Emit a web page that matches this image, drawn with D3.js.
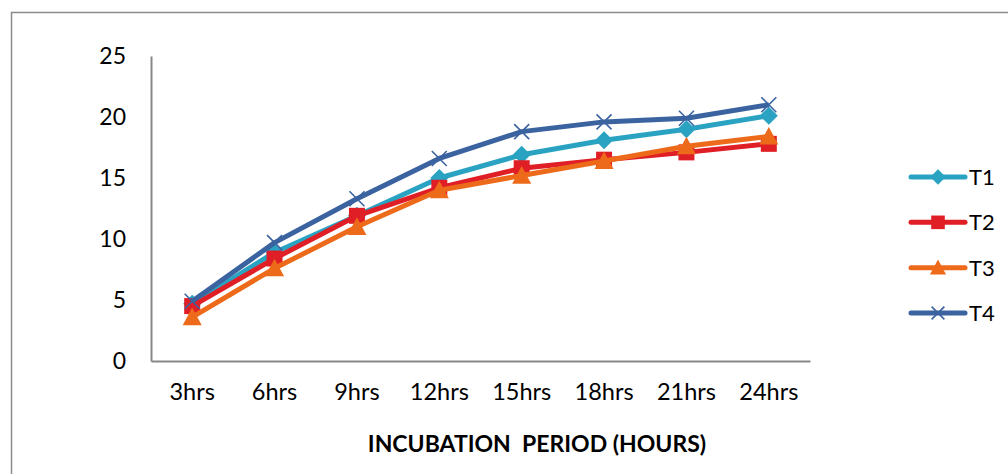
<!DOCTYPE html>
<html><head><meta charset="utf-8">
<script src="https://cdn.jsdelivr.net/npm/d3@7"></script>
<style>html,body{margin:0;padding:0;background:#fff;overflow:hidden}</style>
</head><body>
<svg id="c" width="1008" height="474"></svg>
<script>
const categories = ["3hrs","6hrs","9hrs","12hrs","15hrs","18hrs","21hrs","24hrs"];
const T1 = [4.7, 8.9, 11.9, 15.0, 16.9, 18.1, 19.0, 20.1];
const T2 = [4.5, 8.4, 11.9, 14.2, 15.8, 16.5, 17.1, 17.8];
const T3 = [3.6, 7.6, 11.0, 14.0, 15.2, 16.4, 17.6, 18.4];
const T4 = [4.9, 9.7, 13.3, 16.6, 18.8, 19.6, 19.9, 21.0];
const seriesNames = ["T1","T2","T3","T4"];
const yTicks = [0,5,10,15,20,25];
const xTitle = "INCUBATION\u00a0\u00a0PERIOD (HOURS)";

const colors = ["#2AA3C3","#E01E26","#EE6A1B","#3A63A0"];
const markers = ["diamond","square","triangle","cross"];
const seriesVals = [T1,T2,T3,T4];
const font = "Lato, 'Open Sans', sans-serif";

const svg = d3.select("#c");
svg.append("rect").attr("x",11.5).attr("y",12.5).attr("width",1010).attr("height",480)
  .attr("fill","none").attr("stroke","#8c8c8c").attr("stroke-width",1.5);

const x = d3.scaleBand().domain(categories).range([151, 810]).padding(0);
const y = d3.scaleLinear().domain([0,25]).range([361, 56]);
const cx = c => x(c) + x.bandwidth()/2;

// axes
const yAxis = svg.append("g").attr("transform","translate(151,0)")
  .call(d3.axisLeft(y).tickValues(yTicks).tickSize(0).tickPadding(25));
yAxis.select(".domain").attr("stroke","#878787").attr("stroke-width",2);
yAxis.selectAll("text").attr("font-family",font).attr("font-size",23).attr("fill","#000");

const xAxis = svg.append("g").attr("transform","translate(0,361)")
  .call(d3.axisBottom(x).tickSize(0).tickPadding(22));
xAxis.select(".domain").attr("stroke","#878787").attr("stroke-width",2);
xAxis.selectAll("text").attr("font-family",font).attr("font-size",23.5).attr("fill","#000");

svg.append("text").attr("x",537).attr("y",452).attr("text-anchor","middle")
  .attr("font-family",font).attr("font-weight","bold").attr("font-size",23)
  .attr("fill","#000").text(xTitle);

function drawMarker(g, type, px, py, color, scale){
  const s = scale||1;
  if(type==="diamond"){
    const r=9*s;
    g.append("path").attr("d",`M${px},${py-r}L${px+r},${py}L${px},${py+r}L${px-r},${py}Z`).attr("fill",color);
  } else if(type==="square"){
    const r=8*s;
    g.append("rect").attr("x",px-r).attr("y",py-r).attr("width",2*r).attr("height",2*r).attr("fill",color);
  } else if(type==="triangle"){
    const r=9.5*s;
    g.append("path").attr("d",`M${px},${py-r}L${px+r},${py+r*0.85}L${px-r},${py+r*0.85}Z`).attr("fill",color);
  } else {
    const r=7.5*s;
    g.append("path").attr("d",`M${px-r},${py-r}L${px+r},${py+r}M${px-r},${py+r}L${px+r},${py-r}`)
      .attr("stroke",color).attr("stroke-width",1.6).attr("fill","none");
  }
}

const line = d3.line().x((d,i)=>cx(categories[i])).y(d=>y(d));
seriesVals.forEach((vals,k)=>{
  const g = svg.append("g");
  g.append("path").datum(vals).attr("d",line).attr("fill","none")
    .attr("stroke",colors[k]).attr("stroke-width",5).attr("stroke-linejoin","round");
  vals.forEach((v,i)=>drawMarker(g, markers[k], cx(categories[i]), y(v), colors[k]));
});

// legend
const ly = d3.scalePoint().domain(seriesNames).range([177, 313]);
seriesNames.forEach((n,k)=>{
  const g = svg.append("g");
  const yy = ly(n);
  g.append("line").attr("x1",911).attr("x2",965).attr("y1",yy).attr("y2",yy)
    .attr("stroke",colors[k]).attr("stroke-width",5).attr("stroke-linecap","round");
  drawMarker(g, markers[k], 938, yy, colors[k], 0.85);
  g.append("text").attr("x",969).attr("y",yy).attr("dy","0.36em")
    .attr("font-family",font).attr("font-size",22).attr("fill","#000").text(n);
});
</script>
</body></html>
